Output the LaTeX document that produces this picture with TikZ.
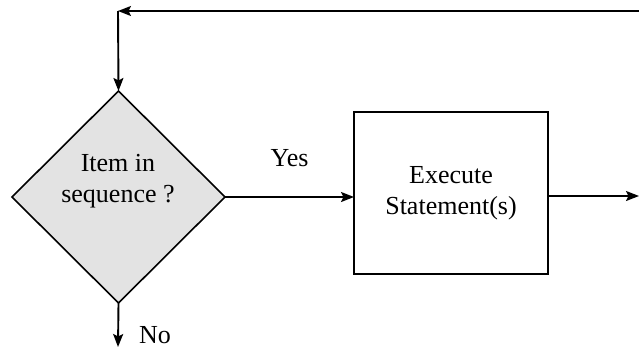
\documentclass[tikz,border=0pt]{standalone}
\usepackage{fontspec}
\setmainfont{Liberation Serif}
\usetikzlibrary{shapes.geometric,arrows.meta}
\begin{document}
\begin{tikzpicture}[x=1pt,y=1pt,
  line width=1.9pt,
  flow/.style={-{Stealth[length=13pt,width=10pt,inset=2.5pt]}},
  decision/.style={draw, diamond, fill=black!11, line width=1.6pt, minimum width=213pt, minimum height=212pt, inner sep=0pt, outer sep=0pt},
  process/.style={draw, rectangle, minimum width=194pt, minimum height=162pt, inner sep=0pt, outer sep=0pt, align=center},
  txt/.style={align=center, inner sep=0pt},
  every node/.style={font=\fontsize{26}{31}\selectfont}]
\useasboundingbox (0,0) rectangle (639,349);

% decision and process blocks
\node[decision] (dec) at (118.5,152) {};
\node[txt] (dectext) at (118,168) {Item in\\sequence ?};
\node[process] (exec) at (451,156) {Execute\\Statement(s)};

% loop-back path along the top
\coordinate (back) at (639,338);
\coordinate (corner) at (118,338);
\coordinate (out) at (639,153);
\coordinate (exit) at (118,2);

\draw[flow] (dec.east) -- node[txt, above=29pt] (yes) {Yes} (exec.west |- dec.east);
\draw[flow] (exec.east |- out) -- (out);
\draw[flow] (back) -- (corner);
\draw[flow] (corner) -- (dec.north);
\draw[flow] (dec.south) -- (exit);
\node[txt, anchor=base] (no) at (155,6) {No};
\end{tikzpicture}
\end{document}
